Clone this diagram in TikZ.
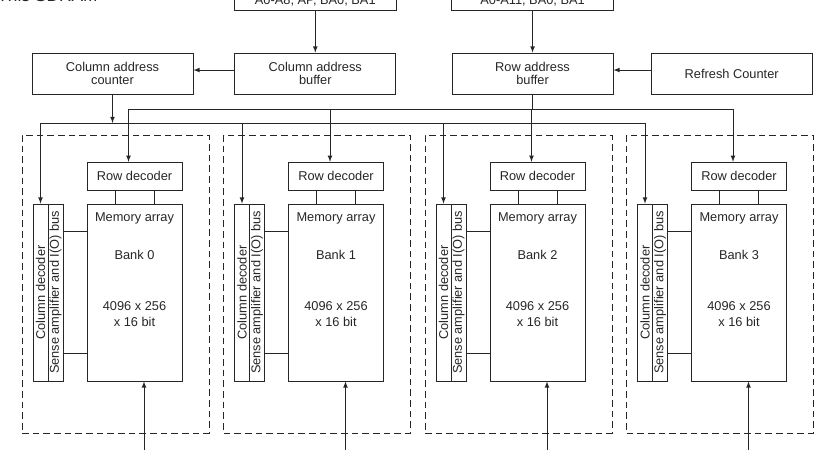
\documentclass[tikz,border=0pt]{standalone}
\usepackage{fontspec}
\setmainfont{Liberation Sans}
\usetikzlibrary{positioning}

\begin{document}
\begin{tikzpicture}[x=0.75pt,y=-0.75pt,color=black!85,line width=0.6pt,
  font=\fontsize{9.6}{10}\selectfont,every node/.style={inner sep=0pt}]
\tikzstyle{arrow}=[draw,-latex]
\tikzstyle{blk}=[draw,minimum width=120.75pt,minimum height=30.75pt,align=center]
\tikzstyle{inbox}=[draw,minimum width=121.5pt,text height=25pt,text depth=4.5pt]
\tikzstyle{bankbox}=[draw,dash pattern=on 5pt off 3pt,minimum width=140.25pt,minimum height=223.5pt]
\tikzstyle{decoder}=[draw,minimum width=71.25pt,minimum height=21pt]
\tikzstyle{memarray}=[draw,minimum width=71.25pt,minimum height=132.75pt]
\tikzstyle{strip}=[draw,rotate=90,minimum width=132.75pt,minimum height=11.25pt]
\tikzstyle{lbl}=[anchor=base]
\clip (0,0) rectangle (826,450);

\node[anchor=base west,font=\fontsize{13}{15}\selectfont](ttl) at (-3,1) {This SDRAM};

% address path
\node[blk](cac) at (112.5,73.5) {Column address\\counter};
\node[blk,right=30.75pt of cac](cab) {Column address\\buffer};
\node[blk,right=41.6pt of cab](rab) {Row address\\buffer};
\node[blk,right=28pt of rab](rfc) {Refresh Counter};
\node[inbox,above=31.5pt of cab](cin) {A0-A8, AP, BA0, BA1};
\node[inbox,above=31.5pt of rab](rin) {A0-A11, BA0, BA1};

\draw[arrow] (cin) -- (cab);
\draw[arrow] (rin) -- (rab);
\draw[arrow] ([yshift=2.6pt]cab.west) -- ([yshift=2.6pt]cac.east);
\draw[arrow] ([yshift=2.6pt]rfc.west) -- ([yshift=2.6pt]rab.east);

\coordinate (rb) at (0,109);
\coordinate (cb) at (0,123);
\coordinate (ib) at (0,460);

% bank 0
\node[memarray](m0) at (134.5,292.5) {};
\node[decoder,above=9.75pt of m0](r0) {Row decoder};
\node[strip](s0) at ([xshift=-59.25pt]m0) {Sense amplifier and I(O) bus};
\node[strip](c0) at ([xshift=-11.25pt]s0) {Column decoder};
\node[bankbox](d0) at ([xshift=-14.25pt,yshift=6.375pt]m0) {};
\node[lbl](ma0) at ([yshift=-13.5pt]m0.north) {Memory array};
\node[lbl](bk0) at ([yshift=-42pt]m0.north) {Bank 0};
\node[lbl](sz0) at ([yshift=-80.25pt]m0.north) {4096 x 256};
\node[lbl](wd0) at ([yshift=-92.25pt]m0.north) {x 16 bit};
\coordinate (i0) at ([xshift=7.125pt]m0.south |- ib);

% bank 1
\node[memarray](m1) at (336,292.5) {};
\node[decoder,above=9.75pt of m1](r1) {Row decoder};
\node[strip](s1) at ([xshift=-59.25pt]m1) {Sense amplifier and I(O) bus};
\node[strip](c1) at ([xshift=-11.25pt]s1) {Column decoder};
\node[bankbox](d1) at ([xshift=-14.25pt,yshift=6.375pt]m1) {};
\node[lbl](ma1) at ([yshift=-13.5pt]m1.north) {Memory array};
\node[lbl](bk1) at ([yshift=-42pt]m1.north) {Bank 1};
\node[lbl](sz1) at ([yshift=-80.25pt]m1.north) {4096 x 256};
\node[lbl](wd1) at ([yshift=-92.25pt]m1.north) {x 16 bit};
\coordinate (i1) at ([xshift=7.125pt]m1.south |- ib);

% bank 2
\node[memarray](m2) at (537.5,292.5) {};
\node[decoder,above=9.75pt of m2](r2) {Row decoder};
\node[strip](s2) at ([xshift=-59.25pt]m2) {Sense amplifier and I(O) bus};
\node[strip](c2) at ([xshift=-11.25pt]s2) {Column decoder};
\node[bankbox](d2) at ([xshift=-14.25pt,yshift=6.375pt]m2) {};
\node[lbl](ma2) at ([yshift=-13.5pt]m2.north) {Memory array};
\node[lbl](bk2) at ([yshift=-42pt]m2.north) {Bank 2};
\node[lbl](sz2) at ([yshift=-80.25pt]m2.north) {4096 x 256};
\node[lbl](wd2) at ([yshift=-92.25pt]m2.north) {x 16 bit};
\coordinate (i2) at ([xshift=7.125pt]m2.south |- ib);

% bank 3
\node[memarray](m3) at (739,292.5) {};
\node[decoder,above=9.75pt of m3](r3) {Row decoder};
\node[strip](s3) at ([xshift=-59.25pt]m3) {Sense amplifier and I(O) bus};
\node[strip](c3) at ([xshift=-11.25pt]s3) {Column decoder};
\node[bankbox](d3) at ([xshift=-14.25pt,yshift=6.375pt]m3) {};
\node[lbl](ma3) at ([yshift=-13.5pt]m3.north) {Memory array};
\node[lbl](bk3) at ([yshift=-42pt]m3.north) {Bank 3};
\node[lbl](sz3) at ([yshift=-80.25pt]m3.north) {4096 x 256};
\node[lbl](wd3) at ([yshift=-92.25pt]m3.north) {x 16 bit};
\coordinate (i3) at ([xshift=7.125pt]m3.south |- ib);

% row address bus
\draw ([xshift=-4.5pt]r0.north |- rb) -- ([xshift=-4.5pt]r3.north |- rb);
\draw (rab.south) -- (rab.south |- rb);
\draw[arrow] ([xshift=-4.5pt]r0.north |- rb) -- ([xshift=-4.5pt]r0.north);
\draw[arrow] ([xshift=-4.5pt]r1.north |- rb) -- ([xshift=-4.5pt]r1.north);
\draw[arrow] ([xshift=-4.5pt]r2.north |- rb) -- ([xshift=-4.5pt]r2.north);
\draw[arrow] ([xshift=-4.5pt]r3.north |- rb) -- ([xshift=-4.5pt]r3.north);

% column address bus
\draw[arrow] (cac.south) -- (cac.south |- cb);
\draw (c0.east |- cb) -- (c3.east |- cb);
\draw[arrow] (c0.east |- cb) -- (c0.east);
\draw[arrow] (c1.east |- cb) -- (c1.east);
\draw[arrow] (c2.east |- cb) -- (c2.east);
\draw[arrow] (c3.east |- cb) -- (c3.east);

% decoder to array links
\draw ([xshift=-14.6pt]r0.south) -- ([xshift=-14.6pt]m0.north);
\draw ([xshift=14.6pt]r0.south) -- ([xshift=14.6pt]m0.north);
\draw ([xshift=-14.6pt]r1.south) -- ([xshift=-14.6pt]m1.north);
\draw ([xshift=14.6pt]r1.south) -- ([xshift=14.6pt]m1.north);
\draw ([xshift=-14.6pt]r2.south) -- ([xshift=-14.6pt]m2.north);
\draw ([xshift=14.6pt]r2.south) -- ([xshift=14.6pt]m2.north);
\draw ([xshift=-14.6pt]r3.south) -- ([xshift=-14.6pt]m3.north);
\draw ([xshift=14.6pt]r3.south) -- ([xshift=14.6pt]m3.north);

\draw ([yshift=45.75pt]s0.south) -- ([yshift=45.75pt]m0.west);
\draw ([yshift=-45.75pt]s0.south) -- ([yshift=-45.75pt]m0.west);
\draw ([yshift=45.75pt]s1.south) -- ([yshift=45.75pt]m1.west);
\draw ([yshift=-45.75pt]s1.south) -- ([yshift=-45.75pt]m1.west);
\draw ([yshift=45.75pt]s2.south) -- ([yshift=45.75pt]m2.west);
\draw ([yshift=-45.75pt]s2.south) -- ([yshift=-45.75pt]m2.west);
\draw ([yshift=45.75pt]s3.south) -- ([yshift=45.75pt]m3.west);
\draw ([yshift=-45.75pt]s3.south) -- ([yshift=-45.75pt]m3.west);

% data in
\draw[arrow] (i0) -- (i0 |- m0.south);
\draw[arrow] (i1) -- (i1 |- m1.south);
\draw[arrow] (i2) -- (i2 |- m2.south);
\draw[arrow] (i3) -- (i3 |- m3.south);
\end{tikzpicture}
\end{document}
